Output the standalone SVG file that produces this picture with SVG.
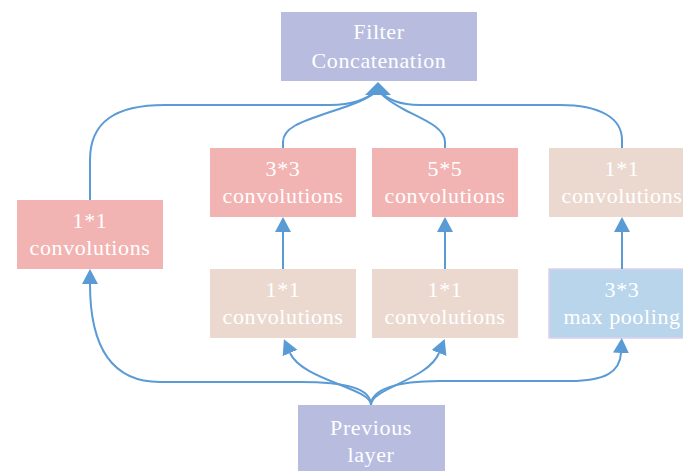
<svg xmlns="http://www.w3.org/2000/svg" width="683" height="471" viewBox="0 0 683 471">
<style>
.t{font-family:"Liberation Serif","Times New Roman",serif;font-size:22px;fill:#ffffff;text-anchor:middle;letter-spacing:0.6px}
.purple{fill:#b8bde0}
.pink{fill:#f2b3b3}
.beige{fill:#ebd9cf}
.blue{fill:#b9d5eb;stroke:#dccff0;stroke-width:1.5}
.c path.l{fill:none;stroke:#5b9bd5;stroke-width:2}
</style>
<defs>
<marker id="a" viewBox="0 0 15 16" refX="0" refY="8" markerWidth="15" markerHeight="16" orient="auto" markerUnits="userSpaceOnUse">
<path d="M0,0 L15,8 L0,16 z" fill="#5b9bd5"/>
</marker>
</defs>
<g id="concat"><rect class="purple" x="281" y="12" width="196" height="69"/><text class="t" x="379" y="39">Filter</text><text class="t" x="379" y="68">Concatenation</text></g>
<g id="conv1x1_left"><rect class="pink" x="17" y="200" width="146" height="69"/><text class="t" x="90" y="228">1*1</text><text class="t" x="90" y="255">convolutions</text></g>
<g id="conv3x3"><rect class="pink" x="210" y="148" width="146" height="69"/><text class="t" x="283" y="176">3*3</text><text class="t" x="283" y="203">convolutions</text></g>
<g id="conv5x5"><rect class="pink" x="372" y="148" width="146" height="69"/><text class="t" x="445" y="176">5*5</text><text class="t" x="445" y="203">convolutions</text></g>
<g id="conv1x1_right"><rect class="beige" x="549" y="148" width="146" height="69"/><text class="t" x="622" y="176">1*1</text><text class="t" x="622" y="203">convolutions</text></g>
<g id="conv1x1_a"><rect class="beige" x="210" y="269" width="146" height="69"/><text class="t" x="283" y="297">1*1</text><text class="t" x="283" y="324">convolutions</text></g>
<g id="conv1x1_b"><rect class="beige" x="372" y="269" width="146" height="69"/><text class="t" x="445" y="297">1*1</text><text class="t" x="445" y="324">convolutions</text></g>
<g id="maxpool"><rect class="blue" x="549" y="269" width="146" height="69"/><text class="t" x="622" y="297">3*3</text><text class="t" x="622" y="324">max pooling</text></g>
<g id="previous"><rect class="purple" x="298" y="405" width="147" height="70"/><text class="t" x="371" y="435">Previous</text><text class="t" x="371" y="462">layer</text></g>
<g class="c" id="connectors">
<path class="l" d="M371,405 C371,388 345,382 300,382 L160,382 C110,382 90,345 90,284" marker-end="url(#a)"/>
<path class="l" d="M371,405 C371,388 302,380 290,353" marker-end="url(#a)"/>
<path class="l" d="M371,405 C371,388 428,380 439,353" marker-end="url(#a)"/>
<path class="l" d="M371,405 C371,390 395,381 440,381 L570,381 C605,381 620,372 621,353" marker-end="url(#a)"/>
<path class="l" d="M283,269 L283,232" marker-end="url(#a)"/>
<path class="l" d="M445,269 L445,232" marker-end="url(#a)"/>
<path class="l" d="M622,269 L622,232" marker-end="url(#a)"/>
<path class="l" d="M90,200 L90,160 C90,122 115,105 165,105 L330,105 C352,105 365,100 378,90"/>
<path class="l" d="M283,148 L283,142 C283,128 300,122 330,112 C355,104 370,98 378,90"/>
<path class="l" d="M445,148 L445,142 C445,128 425,120 405,110 C392,103 382,96 378,90"/>
<path class="l" d="M622,148 L622,140 C622,118 600,105 560,105 L420,105 C400,105 388,100 378,90"/>
<path d="M365,95 L378,82 L391,95 z" fill="#5b9bd5"/>
</g>
</svg>
